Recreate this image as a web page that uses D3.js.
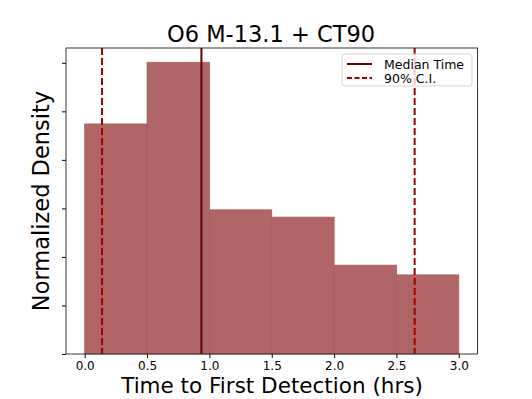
<!DOCTYPE html>
<html>
<head>
<script src="https://d3js.org/d3.v7.min.js"></script>
<style>
  body { margin: 0; background: white; }
  text { font-family: "DejaVu Sans", sans-serif; }
</style>
</head>
<body>
<div id="chart"></div>
<script>
// histogram bins (hrs) and normalized density
var binEdges = [0.0, 0.5, 1.0, 1.5, 2.0, 2.5, 3.0];
var density = [0.474, 0.601, 0.297, 0.282, 0.183, 0.163];
var medianTime = 0.936;
var ciBounds = [0.139, 2.646];
var xTicks = [0.0, 0.5, 1.0, 1.5, 2.0, 2.5, 3.0];
var yTicks = [0, 0.1, 0.2, 0.3, 0.4, 0.5, 0.6];

var W = 532, H = 399;
var plotL = 66, plotR = 477.5, plotT = 48, plotB = 354;

var svg = d3.select("#chart").append("svg")
    .attr("width", W).attr("height", H);

var xs = d3.scaleLinear().domain([-0.15, 3.15]).range([plotL, plotR]);
var ys = d3.scaleLinear().domain([0, 0.6305]).range([plotB, plotT]);

var bins = density.map(function (d, i) { return { x0: binEdges[i], x1: binEdges[i + 1], v: d }; });

svg.selectAll("rect.bar")
    .data(bins)
    .enter()
    .append("rect")
    .attr("class", "bar")
    .attr("x", d => xs(d.x0))
    .attr("width", d => xs(d.x1) - xs(d.x0))
    .attr("y", d => ys(d.v))
    .attr("height", d => ys(0) - ys(d.v))
    .attr("fill", "#b06666")
    .attr("stroke", "#a85c5c")
    .attr("stroke-width", 0.8);

// median and CI lines
svg.append("line")
    .attr("x1", xs(medianTime)).attr("x2", xs(medianTime))
    .attr("y1", plotT).attr("y2", plotB)
    .attr("stroke", "#640000").attr("stroke-width", 2);

svg.selectAll("line.ci")
    .data(ciBounds)
    .enter()
    .append("line")
    .attr("class", "ci")
    .attr("x1", d => xs(d)).attr("x2", d => xs(d))
    .attr("y1", plotT).attr("y2", plotB)
    .attr("stroke", "#a00000").attr("stroke-width", 2)
    .attr("stroke-dasharray", "7,3");

// axes
var xAxis = d3.axisBottom(xs).tickValues(xTicks).tickFormat(d3.format(".1f")).tickSize(4).tickPadding(3.5);
var gx = svg.append("g").attr("transform", "translate(0," + plotB + ")").call(xAxis);
gx.select(".domain").remove();
gx.selectAll("text").style("font-size", "12px").attr("fill", "#000");

var yAxis = d3.axisLeft(ys).tickValues(yTicks).tickFormat("").tickSize(4);
var gy = svg.append("g").attr("transform", "translate(" + plotL + ",0)").call(yAxis);
gy.select(".domain").remove();

// frame
svg.append("rect")
    .attr("x", plotL).attr("y", plotT)
    .attr("width", plotR - plotL).attr("height", plotB - plotT)
    .attr("fill", "none").attr("stroke", "#222").attr("stroke-width", 0.9);

// titles
svg.append("text")
    .attr("x", 271).attr("y", 42)
    .attr("text-anchor", "middle")
    .style("font-size", "22.5px")
    .text("O6 M-13.1 + CT90");

svg.append("text")
    .attr("x", 272).attr("y", 393)
    .attr("text-anchor", "middle")
    .style("font-size", "21.5px")
    .text("Time to First Detection (hrs)");

svg.append("text")
    .attr("transform", "translate(49," + (plotT + plotB) / 2 + ") rotate(-90)")
    .attr("text-anchor", "middle")
    .style("font-size", "22.5px")
    .text("Normalized Density");

// legend
var lg = svg.append("g");
lg.append("rect")
    .attr("x", 342).attr("y", 54).attr("width", 130).attr("height", 32)
    .attr("rx", 3)
    .attr("fill", "white").attr("fill-opacity", 0.8)
    .attr("stroke", "#ccc").attr("stroke-width", 0.8);
var legendItems = [
    { label: "Median Time", color: "#640000", dash: null },
    { label: "90% C.I.", color: "#a00000", dash: "5,2.5" }
];
legendItems.forEach(function (d, i) {
    var y = 64 + i * 14;
    lg.append("line")
        .attr("x1", 347).attr("x2", 372).attr("y1", y).attr("y2", y)
        .attr("stroke", d.color).attr("stroke-width", 2)
        .attr("stroke-dasharray", d.dash);
    lg.append("text")
        .attr("x", 384).attr("y", y + 4.5)
        .style("font-size", "12.5px")
        .text(d.label);
});
</script>
</body>
</html>
